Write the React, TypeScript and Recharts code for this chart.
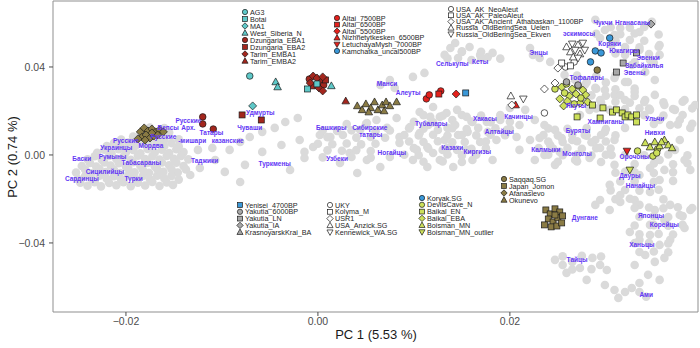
import { ScatterChart, Scatter, XAxis, YAxis, ReferenceArea } from 'recharts';

type P = [number, number];

const FONT = '"Liberation Sans", Arial, Helvetica, sans-serif';

const X_DOMAIN: [number, number] = [-0.0276, 0.0396];
const Y_DOMAIN: [number, number] = [-0.0714, 0.07];
const X_TICKS = [-0.02, 0, 0.02];
const Y_TICKS = [-0.04, 0, 0.04];

// modern reference populations (grey cloud)
const grayEurope: P[] = [
  [-0.024, -0.014], [-0.0226, -0.0143], [-0.021, -0.0138], [-0.0195, -0.0142], [-0.018, -0.0139], [-0.0165, -0.0141], [-0.0151, -0.0136],
  [-0.025, -0.011], [-0.0235, -0.0113], [-0.022, -0.0108], [-0.0205, -0.0112], [-0.019, -0.0109], [-0.0175, -0.0111], [-0.016, -0.0107], [-0.0145, -0.0112],
  [-0.0252, -0.008], [-0.0236, -0.0083], [-0.0221, -0.0078], [-0.0206, -0.0082], [-0.0191, -0.0079], [-0.0176, -0.0081], [-0.0161, -0.0077], [-0.0146, -0.008],
  [-0.0246, -0.005], [-0.0231, -0.0053], [-0.0216, -0.0048], [-0.02, -0.0052], [-0.0185, -0.0049], [-0.017, -0.0051], [-0.0155, -0.0047], [-0.014, -0.005],
  [-0.024, -0.002], [-0.0225, -0.0023], [-0.021, -0.0018], [-0.0195, -0.0022], [-0.018, -0.0019], [-0.0165, -0.0021], [-0.015, -0.0017], [-0.0135, -0.002],
  [-0.023, 0.001], [-0.0215, 0.0007], [-0.02, 0.0012], [-0.0185, 0.0008], [-0.017, 0.0011], [-0.0155, 0.0009], [-0.014, 0.0013],
  [-0.022, 0.004], [-0.0205, 0.0037], [-0.019, 0.0042], [-0.0175, 0.0038], [-0.016, 0.0041], [-0.0145, 0.0039],
  [-0.0205, 0.007], [-0.019, 0.0067], [-0.0175, 0.0072], [-0.016, 0.0068], [-0.0145, 0.0071],
  [-0.0185, 0.01], [-0.017, 0.0097], [-0.0155, 0.0102],
  [-0.0175, 0.0125], [-0.016, 0.0122],
];
const grayEuropeFill: P[] = [
  [-0.02475, -0.0126], [-0.02325, -0.0124], [-0.02175, -0.0127], [-0.02025, -0.0124], [-0.01875, -0.0126], [-0.01725, -0.0123], [-0.01575, -0.0125],
  [-0.02425, -0.0096], [-0.02275, -0.0094], [-0.02125, -0.0097], [-0.01975, -0.0093], [-0.01825, -0.0096], [-0.01675, -0.0094], [-0.01525, -0.0095],
  [-0.02425, -0.0066], [-0.02275, -0.0064], [-0.02125, -0.0067], [-0.01975, -0.0063], [-0.01825, -0.0066], [-0.01675, -0.0064], [-0.01525, -0.0065], [-0.01375, -0.0066],
  [-0.02375, -0.0036], [-0.02225, -0.0034], [-0.02075, -0.0037], [-0.01925, -0.0033], [-0.01775, -0.0036], [-0.01625, -0.0034], [-0.01475, -0.0035],
  [-0.02325, -0.0006], [-0.02175, -0.0004], [-0.02025, -0.0007], [-0.01875, -0.0003], [-0.01725, -0.0006], [-0.01575, -0.0004], [-0.01425, -0.0005],
  [-0.02225, 0.0024], [-0.02075, 0.0026], [-0.01925, 0.0023], [-0.01775, 0.0027], [-0.01625, 0.0024], [-0.01475, 0.0026],
  [-0.02125, 0.0054], [-0.01975, 0.0056], [-0.01825, 0.0053], [-0.01675, 0.0057], [-0.01525, 0.0054],
  [-0.01925, 0.0084], [-0.01775, 0.0086], [-0.01625, 0.0083],
];
const grayVolga: P[] = [
  [-0.0133, -0.0091], [-0.0123, -0.0059], [-0.0107, -0.0023], [-0.0092, 0.0023], [-0.0081, 0.0059], [-0.0071, 0.0082],
  [-0.0058, 0.0105], [-0.0045, 0.0123], [-0.0034, 0.015], [-0.0021, 0.0168], [-0.0097, -0.0077], [-0.0076, -0.0045],
  [-0.0058, 0.0014], [-0.0038, 0.0045], [-0.0019, 0.0068], [-0.0014, -0.0014], [-0.0029, -0.0068], [-0.0081, -0.0123],
  [-0.011, 0.0032], [-0.0125, 0.0023],
];
const grayCentral: P[] = [
  [-0.0014, 0.0014], [-0.0005, 0.0036], [0.0002, 0.0091], [0.0013, 0.0082], [0.0026, 0.0091], [0.0044, 0.0114], [0.0051, 0.0145],
  [0.0061, 0.0159], [0.0072, 0.0123], [0.0082, 0.0168], [0.0085, 0.0082], [0.0096, 0.0127], [0.0106, 0.01], [0.0117, 0.0173],
  [0.012, 0.0218], [0.0127, 0.0173], [0.0134, 0.0191], [0.014, 0.0159], [0.0145, 0.0205], [0.0155, 0.0173], [0.0161, 0.015],
  [0.0176, 0.015], [0.019, 0.0159], [0.0197, 0.0114], [0.0207, 0.0082], [0.0186, 0.0068], [0.0169, 0.0059], [0.0155, 0.0023],
  [0.0145, 0.0023], [0.013, 0.0023], [0.012, 0.0009], [0.0114, 0.0036], [0.0103, 0.0023], [0.0085, 0.0055], [0.0075, -0.0009],
  [0.0065, -0.0055], [0.0051, -0.0023], [0.0033, 0.0009], [0.0023, -0.0036], [0.0041, -0.0082], [0.0114, -0.0055], [0.0127, -0.0023],
  [0.0141, -0.0055], [0.0161, -0.0023], [0.0182, -0.0023], [0.0099, -0.0023],
  [0.0106, 0.0195], [0.0115, 0.0136], [0.0125, 0.0114], [0.0135, 0.0123], [0.0146, 0.0091], [0.0156, 0.0105], [0.0167, 0.0123],
  [0.0177, 0.0105], [0.0132, 0.0068], [0.0143, 0.0136], [0.0153, 0.0059],
  [0.0216, 0.0205], [0.0226, 0.0159], [0.021, 0.0136], [0.0221, 0.0068], [0.0236, 0], [0.0226, -0.0023], [0.0247, -0.0045],
  [0.021, 0.0023], [0.02, 0.0214],
];
const grayCentralFill: P[] = [
  [0.011, 0.0181], [0.013, 0.0178], [0.015, 0.0182], [0.017, 0.0179], [0.019, 0.0181],
  [0.01, 0.0151], [0.012, 0.0148], [0.016, 0.0152], [0.018, 0.0149], [0.02, 0.0151],
  [0.0095, 0.0121], [0.011, 0.0119], [0.014, 0.0122], [0.0155, 0.0118], [0.0185, 0.0121], [0.02, 0.0119],
  [0.009, 0.0091], [0.0105, 0.0089], [0.012, 0.0092], [0.0135, 0.0088], [0.015, 0.0091], [0.0165, 0.0089], [0.018, 0.0092], [0.0195, 0.009],
  [0.0095, 0.0061], [0.011, 0.0059], [0.0125, 0.0062], [0.014, 0.0058], [0.0175, 0.0061],
  [0.01, 0.0031], [0.0115, 0.0029], [0.0135, 0.0032], [0.016, 0.0028], [0.0175, 0.0031],
  [0.009, 0.0001], [0.0105, -0.0001], [0.0135, 0.0002], [0.015, -0.0002], [0.0165, 0.0001],
  [0.011, -0.0031], [0.013, -0.0029], [0.015, -0.0032],
  [0.003, 0.0141], [0.005, 0.0139],
  [0.0005, 0.0111], [0.002, 0.0109], [0.0035, 0.0112], [0.006, 0.0108], [0.0075, 0.0111],
  [0.001, 0.0081], [0.004, 0.0079], [0.0055, 0.0082], [0.007, 0.0078],
  [0, 0.0051], [0.0015, 0.0049], [0.003, 0.0052], [0.0045, 0.0048], [0.006, 0.0051],
  [0.001, 0.0021], [0.0025, 0.0019], [0.004, 0.0022], [0.0055, 0.0018],
  [0.0005, -0.0011], [0.0035, -0.0009], [0.0055, -0.0012],
];
const grayNorth: P[] = [
  [0.0111, 0.0373], [0.0099, 0.0355], [0.0065, 0.0318], [0.0075, 0.0341], [0.008, 0.0305], [0.0138, 0.0486], [0.0143, 0.0509],
  [0.015, 0.0468], [0.0158, 0.0491], [0.0169, 0.0455], [0.0177, 0.0445], [0.0182, 0.0464], [0.0146, 0.0441], [0.016, 0.0432],
  [0.0132, 0.0455], [0.0224, 0.0455], [0.0221, 0.0486], [0.0231, 0.0441], [0.0242, 0.0423],
  [0.015, 0.0471], [0.017, 0.0469], [0.0135, 0.0439], [0.017, 0.0441], [0.019, 0.0438],
];
const grayEast: P[] = [
  [0.0289, 0.0614], [0.0299, 0.0568], [0.0309, 0.0545], [0.0294, 0.0532], [0.0315, 0.0577], [0.0325, 0.0523], [0.0306, 0.05],
  [0.0335, 0.0559], [0.0348, 0.0605], [0.0356, 0.05],
  [0.032, 0.0455], [0.0335, 0.0477], [0.0346, 0.0432], [0.0356, 0.0455], [0.0327, 0.0409], [0.0341, 0.0377], [0.0351, 0.0341],
  [0.0323, 0.0332], [0.0309, 0.035],
  [0.0257, 0.0364], [0.0268, 0.0341], [0.0278, 0.0318], [0.0289, 0.0305], [0.0299, 0.0295], [0.0309, 0.0273], [0.032, 0.025],
  [0.033, 0.0286], [0.0294, 0.025], [0.0283, 0.0205], [0.0273, 0.0182], [0.0304, 0.0205], [0.0263, 0.0273],
  [0.0341, 0.025], [0.0351, 0.0273], [0.0361, 0.0227], [0.0372, 0.0205], [0.0382, 0.025], [0.0393, 0.0227], [0.0356, 0.0159],
  [0.0367, 0.0136], [0.0377, 0.0159], [0.0388, 0.0123], [0.0346, 0.0205],
  [0.0236, 0.0136], [0.0247, 0.0114], [0.0254, 0.0077], [0.0265, 0.0068], [0.0278, 0.0091], [0.0289, 0.0068], [0.0299, 0.0105],
  [0.0309, 0.0068], [0.032, 0.0123], [0.0242, 0.0045], [0.0252, 0.0014], [0.0268, -0.0023], [0.0283, -0.0014], [0.0294, 0.0032],
  [0.0306, 0], [0.0231, 0.0077],
];
const grayEastFill: P[] = [
  [0.0305, 0.0581], [0.0325, 0.0579], [0.034, 0.0582], [0.029, 0.0551], [0.0315, 0.0549], [0.033, 0.0552], [0.0355, 0.0548],
  [0.031, 0.0521], [0.034, 0.0519], [0.032, 0.0491], [0.0335, 0.0489], [0.0355, 0.0492], [0.031, 0.0461], [0.0345, 0.0459],
  [0.033, 0.0421], [0.035, 0.0419],
  [0.027, 0.0361], [0.029, 0.0359], [0.031, 0.0362], [0.028, 0.0331], [0.03, 0.0329], [0.032, 0.0332],
  [0.029, 0.0301], [0.031, 0.0299], [0.033, 0.0302], [0.0285, 0.0271], [0.03, 0.0269], [0.0315, 0.0272], [0.033, 0.0268],
  [0.028, 0.0241], [0.0295, 0.0239], [0.031, 0.0242], [0.0325, 0.0238], [0.029, 0.0211], [0.032, 0.0209], [0.0335, 0.0212],
  [0.034, 0.0241], [0.036, 0.0239], [0.038, 0.0242], [0.0345, 0.0211], [0.037, 0.0209], [0.039, 0.0212],
  [0.034, 0.0181], [0.036, 0.0179], [0.038, 0.0182], [0.035, 0.0141], [0.0375, 0.0139], [0.039, 0.0142],
  [0.024, 0.0121], [0.026, 0.0119], [0.028, 0.0122], [0.03, 0.0118],
  [0.0235, 0.0091], [0.025, 0.0089], [0.0265, 0.0092], [0.028, 0.0088], [0.0295, 0.0091], [0.031, 0.0089],
  [0.024, 0.0061], [0.0255, 0.0059], [0.027, 0.0062], [0.0285, 0.0058], [0.03, 0.0061],
  [0.023, 0.0031], [0.0245, 0.0029], [0.026, 0.0032], [0.0275, 0.0028], [0.029, 0.0031], [0.0305, 0.0029],
  [0.024, 0.0001], [0.0255, -0.0001], [0.027, 0.0002], [0.0285, -0.0002], [0.03, 0.0001],
  [0.025, -0.0031], [0.027, -0.0029], [0.0295, -0.0032],
];
const graySouth: P[] = [
  [0.0309, -0.0045], [0.032, -0.0077], [0.0335, -0.0091], [0.0346, -0.0059], [0.0356, -0.0114], [0.0361, -0.0068], [0.0304, -0.0136],
  [0.0315, -0.0182], [0.033, -0.0205], [0.0346, -0.0168], [0.0294, -0.0205], [0.0356, -0.0023], [0.0372, 0.0023], [0.0382, -0.0023],
  [0.0388, -0.0068], [0.0377, 0.0068],
  [0.0335, -0.0227], [0.0351, -0.025], [0.0367, -0.0227], [0.0377, -0.0273], [0.0388, -0.025], [0.0361, -0.0295], [0.0346, -0.0318],
  [0.0382, -0.0332],
  [0.0325, -0.035], [0.0335, -0.0386], [0.0346, -0.0364], [0.0356, -0.0409], [0.0367, -0.0386], [0.0341, -0.0455], [0.0351, -0.0486],
  [0.0361, -0.0468], [0.033, -0.05], [0.0344, -0.0545], [0.0356, -0.0568], [0.0335, -0.0582],
  [0.0247, -0.0477], [0.0255, -0.05], [0.0265, -0.0486], [0.0273, -0.0514], [0.0259, -0.0536], [0.0286, -0.0468], [0.0294, -0.05],
  [0.0301, -0.0523], [0.028, -0.0568],
  [0.0299, -0.0591], [0.0309, -0.0614], [0.032, -0.0623], [0.0327, -0.0605], [0.0313, -0.065], [0.0335, -0.0623], [0.0342, -0.0645],
  [0.0289, -0.0227], [0.0304, -0.025], [0.0315, -0.0214],
];
const graySouthFill: P[] = [
  [0.032, 0.0001], [0.034, -0.0001], [0.0365, 0.0002], [0.0385, -0.0002],
  [0.033, -0.0041], [0.035, -0.0039], [0.037, -0.0042], [0.0385, -0.0038],
  [0.031, -0.0081], [0.033, -0.0079], [0.035, -0.0082], [0.037, -0.0078],
  [0.0315, -0.0121], [0.033, -0.0119], [0.035, -0.0122], [0.037, -0.0118],
  [0.0305, -0.0161], [0.032, -0.0159], [0.0335, -0.0162], [0.0355, -0.0158],
  [0.031, -0.0201], [0.0325, -0.0199], [0.036, -0.0202],
  [0.033, -0.0241], [0.0345, -0.0239], [0.036, -0.0242], [0.0375, -0.0238], [0.039, -0.0241],
  [0.0335, -0.0281], [0.035, -0.0279], [0.0365, -0.0282], [0.038, -0.0278],
  [0.033, -0.0321], [0.035, -0.0319], [0.0365, -0.0322], [0.038, -0.0318],
  [0.0335, -0.0361], [0.0355, -0.0359], [0.037, -0.0362],
  [0.033, -0.0401], [0.0345, -0.0399], [0.0365, -0.0402],
  [0.0335, -0.0441], [0.035, -0.0439], [0.0365, -0.0442],
  [0.0255, -0.0461], [0.0275, -0.0459], [0.0295, -0.0462], [0.0265, -0.0521], [0.0285, -0.0519],
];

// ancient samples
const AG3: P[] = [[-0.0071, 0.0359]];
const Botai: P[] = [[-0.0011, 0.03], [-0.0001, 0.0323]];
const MA1: P[] = [[-0.0068, 0.0223]];
const WestSiberiaN: P[] = [[-0.0044, 0.0332], [-0.0042, 0.0309], [0.0014, 0.0314]];
const DzungariaEBA1: P[] = [[-0.0009, 0.0345], [0.0003, 0.0332], [0.0006, 0.0318], [-0.012, 0.0173], [-0.012, 0.0141], [-0.0109, 0.0118]];
const DzungariaEBA2: P[] = [[-0.0006, 0.0314], [0.0008, 0.0341], [-0.0079, 0.0182], [-0.0059, 0.0159]];
const TarimEMBA1: P[] = [[-0.0005, 0.0359], [-0.0001, 0.035], [0.0005, 0.0355], [0.0001, 0.0305], [0.0005, 0.0291], [-0.0008, 0.0327]];
const TarimEMBA2: P[] = [[0.0029, 0.0245]];
const Altai7500: P[] = [[0.0113, 0.0255], [0.0116, 0.0273], [0.0128, 0.0291]];
const Altai6500: P[] = [[0.0126, 0.0277]];
const Altai5500: P[] = [[0.0144, 0.0277]];
const Nizhnetytkesken: P[] = [[0.0206, 0.0227]];
const LetuchayaMysh: P[] = [[0.0322, 0.0018]];
const Kamchatka: P[] = [[0.0304, 0.0532]];
const NeoAleut: P[] = [[0.0258, 0.04], [0.0267, 0.0423]];
const PaleoAleut: P[] = [[0.0254, 0.0418], [0.0263, 0.0405]];
const Athabaskan: P[] = [[0.025, 0.0395], [0.0202, 0.0227], [0.0236, 0.03], [0.0247, 0.0327]];
const Uelen: P[] = [[0.0259, 0.0491], [0.0271, 0.05], [0.0263, 0.0468], [0.0273, 0.0459], [0.0266, 0.0445], [0.0201, 0.0268]];
const Ekven: P[] = [[0.0265, 0.0505], [0.0276, 0.0509], [0.0268, 0.0477], [0.0278, 0.0477], [0.0271, 0.0441], [0.0214, 0.0255]];
const Yenisei: P[] = [[0.0154, 0.0282]];
const Yakutia6000: P[] = [[0.0259, 0.0332], [0.0271, 0.0318]];
const YakutiaLN: P[] = [[0.0318, 0.0418], [0.0311, 0.0377], [0.0332, 0.0464]];
const YakutiaIA: P[] = [[0.0347, 0.0595]];
const UKY: P[] = [[0.0236, 0.0191]];
const Koryak: P[] = [[0.0289, 0.0473], [0.0295, 0.0464], [0.0284, 0.0423]];
const DevilsCave: P[] = [
  [0.0259, 0.0323], [0.0271, 0.0314], [0.0257, 0.0282], [0.0274, 0.0259], [0.0267, 0.0232], [0.0247, 0.03],
  [0.0333, 0.0018], [0.0354, 0.0027], [0.0349, -0.0005], [0.0353, 0.0009],
];
const BaikalEN: P[] = [
  [0.0286, 0.0227], [0.0297, 0.0214], [0.027, 0.0173], [0.0294, 0.0168], [0.0307, 0.0195], [0.0311, 0.0205],
  [0.0317, 0.0191], [0.032, 0.0173], [0.0323, 0.0182], [0.0327, 0.0173], [0.0332, 0.0182], [0.0332, 0.015],
];
const BaikalEBA: P[] = [
  [0.0254, 0.0309], [0.0265, 0.03], [0.0276, 0.0295], [0.0262, 0.0268], [0.0269, 0.0277], [0.0279, 0.0273],
  [0.0252, 0.0255], [0.026, 0.0245], [0.0273, 0.0236], [0.0256, 0.0223], [0.0281, 0.0241],
];
const BoismanMN: P[] = [
  [0.0341, 0.0055], [0.0346, 0.0036], [0.0351, 0.0059], [0.0356, 0.0041], [0.0361, 0.0068], [0.0365, 0.0045],
  [0.0369, 0.0032], [0.0358, 0.0059],
];
const BoismanOutlier: P[] = [[0.0325, -0.0068]];
const Saqqaq: P[] = [[0.0291, 0.0386]];
const JapanJomon: P[] = [
  [0.02375, -0.025], [0.0242, -0.0268], [0.0247, -0.0245], [0.0252, -0.0259], [0.024, -0.0291], [0.0245, -0.0305],
  [0.025, -0.0286], [0.0255, -0.0277], [0.0236, -0.0318], [0.0243, -0.0327], [0.0249, -0.0323], [0.0254, -0.0309], [0.0247, -0.0273],
];
const Afanasievo: P[] = [
  [-0.0185, 0.0105], [-0.0181, 0.0123], [-0.0177, 0.0109], [-0.0173, 0.0118], [-0.0169, 0.0105], [-0.0165, 0.0114],
  [-0.0183, 0.0082], [-0.0179, 0.0091], [-0.0175, 0.0077], [-0.0171, 0.0086], [-0.0167, 0.0091], [-0.01875, 0.0073],
  [-0.018, 0.0068], [-0.0173, 0.01], [-0.0161, 0.0105],
];
const Okunevo: P[] = [
  [0.0041, 0.0223], [0.0046, 0.0205], [0.005, 0.0232], [0.0055, 0.0214], [0.0059, 0.0241], [0.00625, 0.0205],
  [0.0067, 0.0227], [0.0071, 0.0241], [0.0069, 0.02], [0.0075, 0.0223], [0.0082, 0.0241], [0.0053, 0.0195],
];

// population labels: name, PC1, PC2
const LABELS: [string, number, number][] = [
  ['Сардинцы', -0.0246, -0.0109], ['Баски', -0.0246, -0.0018], ['Сицилийцы', -0.0222, -0.0073], ['Турки', -0.0192, -0.0105],
  ['Табасараны', -0.0184, -0.0036], ['Румыны', -0.0214, -0.0005], ['Украинцы', -0.021, 0.0032], ['Русские', -0.02, 0.0068],
  ['Мордва', -0.0174, 0.0045], ['Русские', -0.0161, 0.0082], ['Вепсы', -0.0156, 0.0123], ['Арх.', -0.0135, 0.0123],
  ['Русские', -0.0135, 0.0155], ['Татары', -0.0111, 0.01], ['-мишари', -0.0131, 0.0068], ['казанские', -0.0094, 0.0068],
  ['Удмурты', -0.006, 0.0191], ['Чуваши', -0.0071, 0.0127], ['Таджики', -0.0118, -0.0023], ['Туркмены', -0.0045, -0.0041],
  ['Манси', 0.0072, 0.0327], ['Алеуты', 0.0094, 0.0282], ['Башкиры', 0.0014, 0.0123], ['Сибирские', 0.0054, 0.0123],
  ['татары', 0.0055, 0.0091], ['Узбеки', 0.002, -0.0018], ['Ногайцы', 0.0077, 0.0009], ['Тубалары', 0.0118, 0.0145],
  ['Казахи', 0.014, 0.0032], ['Киргизы', 0.0166, 0.0014], ['Хакасы', 0.0174, 0.0168], ['Алтайцы', 0.0189, 0.0105],
  ['Качинцы', 0.0209, 0.0173], ['Селькупы', 0.014, 0.0418], ['Кеты', 0.0169, 0.0423], ['Энцы', 0.023, 0.0464],
  ['Чукчи', 0.0297, 0.06], ['Нганасаны', 0.0328, 0.06], ['эскимосы', 0.0272, 0.055], ['Коряки', 0.0304, 0.0509],
  ['Юкагиры', 0.0319, 0.0473], ['Эвенки', 0.0344, 0.0441], ['Забайкалья', 0.034, 0.0405], ['Эвены', 0.033, 0.0373],
  ['Тофалары', 0.028, 0.035], ['Якуты', 0.0269, 0.0227], ['Ульчи', 0.0351, 0.0168], ['Хамниганы', 0.03, 0.015],
  ['Буряты', 0.0271, 0.0109], ['Нивхи', 0.0351, 0.01], ['Калмыки', 0.02375, 0.0027], ['Монголы', 0.027, 0.0005],
  ['Орочоны', 0.033, -0.0005], ['Дауры', 0.0325, -0.0095], ['Нанайцы', 0.0336, -0.0141], ['Дунгане', 0.0278, -0.0286],
  ['Японцы', 0.0347, -0.0273], ['Корейцы', 0.0361, -0.0314], ['Ханьцы', 0.03375, -0.0405], ['Тайцы', 0.027, -0.0477],
  ['Ами', 0.0342, -0.0636],
];

const CYAN = '#5ec8c8';
const DRED = '#a3261d';
const RED = '#e3211c';
const BLUE = '#3a98d8';
const GREY = '#a8a8a8';
const WHITE = '#ffffff';
const YG = '#cde05a';
const OLIVE = '#8a7b44';

type Shape = 'circle' | 'square' | 'diamond' | 'triangle' | 'tridown';

const STYLE: Record<string, [Shape, string]> = {
  AG3: ['circle', CYAN], Botai: ['square', CYAN], MA1: ['diamond', CYAN], West_Siberia_N: ['triangle', CYAN],
  Dzungaria_EBA1: ['circle', DRED], Dzungaria_EBA2: ['square', DRED], Tarim_EMBA1: ['diamond', DRED], Tarim_EMBA2: ['triangle', DRED],
  Altai_7500BP: ['circle', RED], Altai_6500BP: ['square', RED], Altai_5500BP: ['diamond', RED],
  Nizhnetytkesken_6500BP: ['triangle', RED], LetuchayaMysh_7000BP: ['tridown', RED], Kamchatka_uncal500BP: ['circle', BLUE],
  USA_AK_NeoAleut: ['circle', WHITE], USA_AK_PaleoAleut: ['square', WHITE], USA_AK_Ancient_Athabaskan_1100BP: ['diamond', WHITE],
  Russia_OldBeringSea_Uelen: ['triangle', WHITE], Russia_OldBeringSea_Ekven: ['tridown', WHITE],
  Yenisei_4700BP: ['square', BLUE], Yakutia_6000BP: ['circle', GREY], Yakutia_LN: ['square', GREY], Yakutia_IA: ['diamond', GREY],
  KrasnoyarskKrai_BA: ['triangle', GREY],
  UKY: ['circle', WHITE], Kolyma_M: ['square', WHITE], USR1: ['diamond', WHITE], 'USA_Anzick.SG': ['triangle', WHITE],
  'Kennewick_WA.SG': ['tridown', WHITE],
  'Koryak.SG': ['circle', BLUE], DevilsCave_N: ['circle', YG], Baikal_EN: ['square', YG], Baikal_EBA: ['diamond', YG],
  Boisman_MN: ['triangle', YG], Boisman_MN_outlier: ['tridown', YG],
  'Saqqaq.SG': ['circle', OLIVE], Japan_Jomon: ['square', OLIVE], Afanasievo: ['diamond', OLIVE], Okunevo: ['triangle', OLIVE],
};

const SERIES: [string, P[]][] = [
  ['Afanasievo', Afanasievo], ['Okunevo', Okunevo], ['Japan_Jomon', JapanJomon],
  ['Dzungaria_EBA1', DzungariaEBA1], ['Dzungaria_EBA2', DzungariaEBA2], ['Tarim_EMBA1', TarimEMBA1], ['Tarim_EMBA2', TarimEMBA2],
  ['AG3', AG3], ['Botai', Botai], ['MA1', MA1], ['West_Siberia_N', WestSiberiaN],
  ['Altai_7500BP', Altai7500], ['Altai_6500BP', Altai6500], ['Altai_5500BP', Altai5500],
  ['Nizhnetytkesken_6500BP', Nizhnetytkesken], ['LetuchayaMysh_7000BP', LetuchayaMysh], ['Yenisei_4700BP', Yenisei],
  ['Baikal_EBA', BaikalEBA], ['DevilsCave_N', DevilsCave], ['Baikal_EN', BaikalEN], ['Boisman_MN', BoismanMN],
  ['Boisman_MN_outlier', BoismanOutlier], ['Yakutia_6000BP', Yakutia6000], ['Yakutia_LN', YakutiaLN], ['Yakutia_IA', YakutiaIA],
  ['USA_AK_NeoAleut', NeoAleut], ['USA_AK_PaleoAleut', PaleoAleut], ['USA_AK_Ancient_Athabaskan_1100BP', Athabaskan],
  ['Russia_OldBeringSea_Uelen', Uelen], ['Russia_OldBeringSea_Ekven', Ekven], ['UKY', UKY],
  ['Koryak.SG', Koryak], ['Kamchatka_uncal500BP', Kamchatka], ['Saqqaq.SG', Saqqaq],
];

const GRAY_ALL: P[] = [
  ...grayEurope, ...grayEuropeFill, ...grayVolga, ...grayCentral, ...grayCentralFill,
  ...grayNorth, ...grayEast, ...grayEastFill, ...graySouth, ...graySouthFill,
];

// legend blocks: names, symbol x, first row y, row step
const LEGENDS: [string[], number, number, number][] = [
  [['AG3', 'Botai', 'MA1', 'West_Siberia_N', 'Dzungaria_EBA1', 'Dzungaria_EBA2', 'Tarim_EMBA1', 'Tarim_EMBA2'], 245, 12, 7],
  [['Altai_7500BP', 'Altai_6500BP', 'Altai_5500BP', 'Nizhnetytkesken_6500BP', 'LetuchayaMysh_7000BP', 'Kamchatka_uncal500BP'], 337, 18, 6.6],
  [['USA_AK_NeoAleut', 'USA_AK_PaleoAleut', 'USA_AK_Ancient_Athabaskan_1100BP', 'Russia_OldBeringSea_Uelen', 'Russia_OldBeringSea_Ekven'], 451, 9, 6.3],
  [['Yenisei_4700BP', 'Yakutia_6000BP', 'Yakutia_LN', 'Yakutia_IA', 'KrasnoyarskKrai_BA'], 240, 205, 6.8],
  [['UKY', 'Kolyma_M', 'USR1', 'USA_Anzick.SG', 'Kennewick_WA.SG'], 330, 205, 6.8],
  [['Koryak.SG', 'DevilsCave_N', 'Baikal_EN', 'Baikal_EBA', 'Boisman_MN', 'Boisman_MN_outlier'], 422, 198, 6.8],
  [['Saqqaq.SG', 'Japan_Jomon', 'Afanasievo', 'Okunevo'], 504, 179, 7],
];

const toRows = (pts: P[]) => pts.map(([x, y]) => ({ x, y }));

const Marker = ({ cx, cy, shape, fill, s = 1 }: { cx: number; cy: number; shape: Shape; fill: string; s?: number }) => {
  const common = { fill, stroke: '#1a1a1a', strokeWidth: 0.7 };
  if (shape === 'circle') return <circle cx={cx} cy={cy} r={3.3 * s} {...common} />;
  if (shape === 'square') return <rect x={cx - 3 * s} y={cy - 3 * s} width={6 * s} height={6 * s} {...common} />;
  const d = 4 * s;
  if (shape === 'diamond')
    return <polygon points={`${cx},${cy - d} ${cx + d},${cy} ${cx},${cy + d} ${cx - d},${cy}`} {...common} />;
  if (shape === 'triangle')
    return <polygon points={`${cx},${cy - d} ${cx + d * 0.95},${cy + d * 0.7} ${cx - d * 0.95},${cy + d * 0.7}`} {...common} />;
  return <polygon points={`${cx},${cy + d} ${cx + d * 0.95},${cy - d * 0.7} ${cx - d * 0.95},${cy - d * 0.7}`} {...common} />;
};

const fmt = (v: number) => (v < 0 ? '\u2212' : '') + Math.abs(v).toFixed(2);

export default function App() {
  return (
    <div style={{ position: 'relative', width: 700, height: 348, background: '#fff', fontFamily: FONT }}>
      <style>{'body{margin:0}'}</style>
      <ScatterChart width={700} height={348} margin={{ top: 1, right: 2, bottom: 0, left: 0 }}>
        <XAxis
          type="number"
          dataKey="x"
          domain={X_DOMAIN}
          ticks={X_TICKS}
          allowDataOverflow
          tickFormatter={fmt}
          height={36}
          axisLine={false}
          tickSize={4}
          tickLine={{ stroke: '#4d4d4d' }}
          tick={{ fontSize: 10.5, fill: '#4d4d4d', fontFamily: FONT }}
        />
        <YAxis
          type="number"
          dataKey="y"
          domain={Y_DOMAIN}
          ticks={Y_TICKS}
          allowDataOverflow
          tickFormatter={fmt}
          width={53}
          axisLine={false}
          tickSize={4}
          tickMargin={4}
          tickLine={{ stroke: '#4d4d4d' }}
          tick={{ fontSize: 10.5, fill: '#4d4d4d', fontFamily: FONT }}
        />
        <ReferenceArea x1={X_DOMAIN[0]} x2={X_DOMAIN[1]} y1={Y_DOMAIN[0]} y2={Y_DOMAIN[1]} fill="none" stroke="#8f8f8f" strokeWidth={1} />
        <Scatter
          data={toRows(GRAY_ALL)}
          isAnimationActive={false}
          shape={(p: any) => <circle cx={p.cx} cy={p.cy} r={4.3} fill="#dadada" />}
        />
        {SERIES.map(([name, pts]) => {
          const [shape, fill] = STYLE[name];
          return (
            <Scatter
              key={name}
              name={name}
              data={toRows(pts)}
              isAnimationActive={false}
              shape={(p: any) => <Marker cx={p.cx} cy={p.cy} shape={shape} fill={fill} />}
            />
          );
        })}
        <Scatter
          data={LABELS.map(([name, x, y]) => ({ name, x, y }))}
          isAnimationActive={false}
          shape={(p: any) => (
            <text
              x={p.cx}
              y={p.cy}
              textAnchor="middle"
              dominantBaseline="central"
              fontSize={6.5}
              fontWeight="bold"
              fill="#6236f5"
              fontFamily={FONT}
            >
              {p.payload?.name ?? p.name}
            </text>
          )}
        />
      </ScatterChart>
      <svg width={700} height={348} style={{ position: 'absolute', left: 0, top: 0, pointerEvents: 'none' }}>
        {LEGENDS.map(([names, lx, y0, step], bi) => (
          <g key={bi}>
            {names.map((n, i) => {
              const [shape, fill] = STYLE[n];
              const y = y0 + i * step;
              return (
                <g key={n}>
                  <Marker cx={lx} cy={y} shape={shape} fill={fill} s={0.8} />
                  <text x={lx + 5} y={y} dominantBaseline="central" fontSize={7.2} fill="#262626" fontFamily={FONT}>
                    {n}
                  </text>
                </g>
              );
            })}
          </g>
        ))}
        <text x={376} y={334} textAnchor="middle" dominantBaseline="central" fontSize={13} fill="#1a1a1a" fontFamily={FONT}>
          PC 1 (5.53 %)
        </text>
        <text
          transform="translate(12,157) rotate(-90)"
          textAnchor="middle"
          dominantBaseline="central"
          fontSize={13}
          fill="#1a1a1a"
          fontFamily={FONT}
        >
          PC 2 (0.74 %)
        </text>
      </svg>
    </div>
  );
}
